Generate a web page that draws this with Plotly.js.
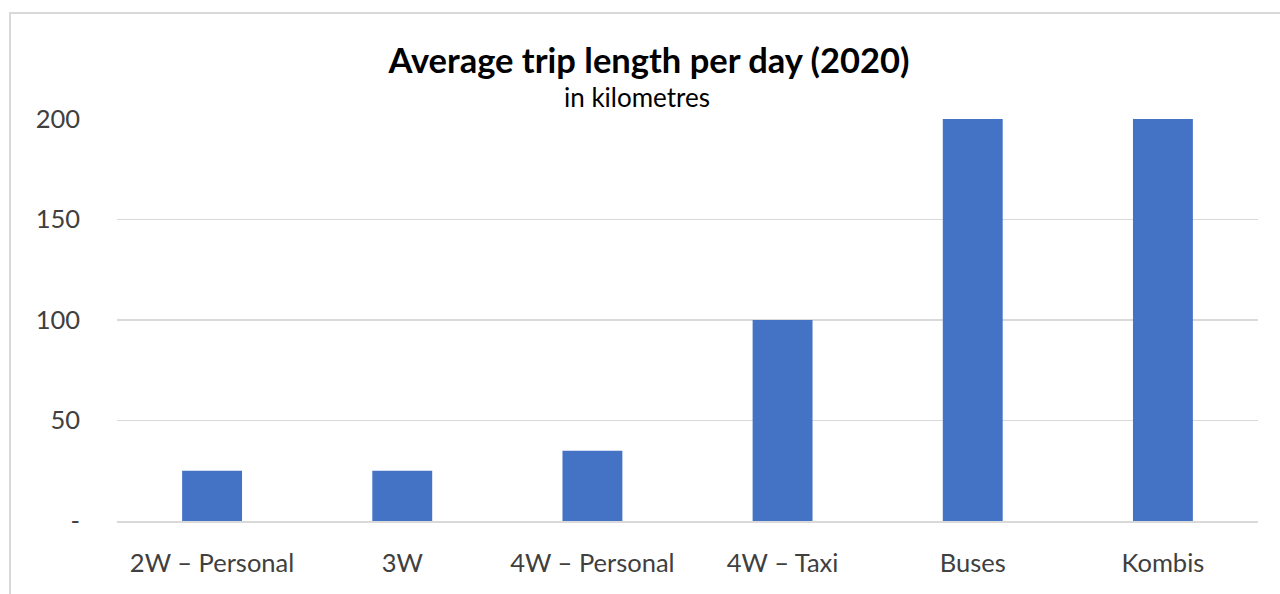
<!DOCTYPE html>
<html>
<head>
<meta charset="utf-8">
<script src="https://cdn.plot.ly/plotly-3.0.1.min.js"></script>
<style>
  html, body { margin: 0; padding: 0; background: #fff; overflow: hidden; }
  #wrap { position: relative; width: 1280px; height: 594px; }
  #frame { position: absolute; left: 9px; top: 12px; width: 1320px; height: 640px;
           border: 2px solid #d9d9d9; box-sizing: border-box; pointer-events: none; }
  #chart { position: absolute; left: 0; top: 0; width: 1280px; height: 594px; }
</style>
</head>
<body>
<div id="wrap">
  <div id="chart"></div>
  <div id="frame"></div>
</div>
<script>
// Average trip length per day by vehicle segment, km
const categories = ["2W – Personal", "3W", "4W – Personal", "4W – Taxi", "Buses", "Kombis"];
const tripKm = [25, 25, 35, 100, 200, 200];
const yTickVals = [0, 50, 100, 150, 200];
const yTickText = ["-", "50", "100", "150", "200"];

const fontFamily = "Lato, 'Open Sans', sans-serif";

const trace = {
  type: "bar",
  x: categories,
  y: tripKm,
  marker: { color: "#4472c4" },
  hoverinfo: "x+y"
};

const layout = {
  width: 1280,
  height: 594,
  margin: { l: 117, r: 22, t: 119, b: 73 },
  paper_bgcolor: "#ffffff",
  plot_bgcolor: "#ffffff",
  showlegend: false,
  bargap: 0.685,
  font: { family: fontFamily, color: "#595959", size: 25 },
  title: {
    text: "<b>Average trip length per day (2020)</b>",
    font: { family: fontFamily, size: 34.5, color: "#000000" },
    x: 0.507, xref: "container", xanchor: "center",
    y: 0.897, yref: "container", yanchor: "middle"
  },
  annotations: [{
    text: "in kilometres",
    xref: "paper", x: 0.456, xanchor: "center",
    yref: "paper", y: 1.055, yanchor: "middle",
    showarrow: false,
    font: { family: fontFamily, size: 26, color: "#000000" }
  }],
  xaxis: {
    type: "category",
    showgrid: false,
    showline: true,
    linecolor: "#d9d9d9",
    linewidth: 2,
    ticks: "",
    ticklabelstandoff: 18,
    tickfont: { family: fontFamily, size: 25.5, color: "#404040" },
    fixedrange: true
  },
  yaxis: {
    range: [0, 200],
    tickvals: yTickVals,
    ticktext: yTickText,
    showgrid: true,
    gridcolor: "#d9d9d9",
    gridwidth: 1.5,
    zeroline: false,
    showline: false,
    ticks: "",
    ticklabelstandoff: 36,
    tickfont: { family: fontFamily, size: 25.5, color: "#404040" },
    fixedrange: true
  }
};

Plotly.newPlot("chart", [trace], layout, { displayModeBar: false, staticPlot: true });
</script>
</body>
</html>
